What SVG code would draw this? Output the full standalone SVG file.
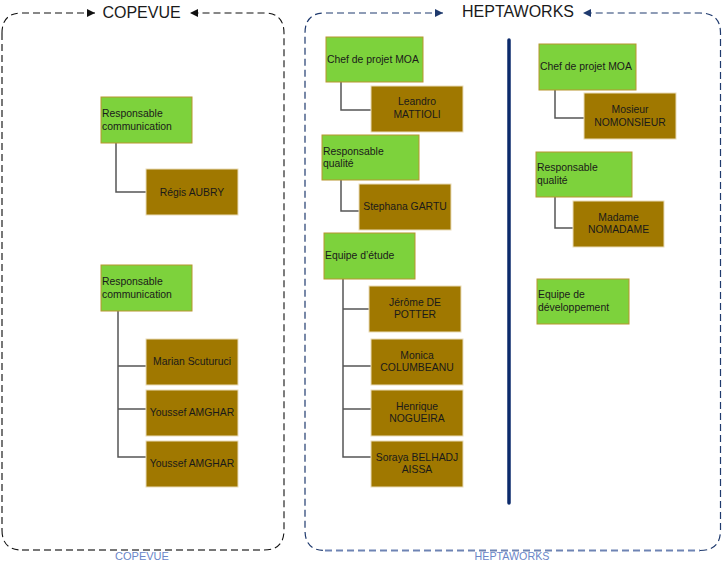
<svg xmlns="http://www.w3.org/2000/svg" width="722" height="564" viewBox="0 0 722 564">
<style>
.g{fill:#7dd23c;stroke:#b8962e;stroke-width:1}
.b{fill:#a07800;stroke:#eadcb8;stroke-width:1}
.t{font-family:"Liberation Sans",Arial,sans-serif;font-size:10.4px;fill:#1a1a1a}
.c{text-anchor:middle}
.title{font-family:"Liberation Sans",Arial,sans-serif;font-size:16px;fill:#1a1a1a;text-anchor:middle}
.foot{font-family:"Liberation Sans",Arial,sans-serif;fill:#6a86c8;text-anchor:middle}
.con{fill:none;stroke:#555;stroke-width:1.5}
.fk{fill:none;stroke:#111;stroke-width:1.1;stroke-dasharray:7,4}
.fg{fill:none;stroke:#777;stroke-width:2;stroke-dasharray:7,4}
.fn{fill:none;stroke:#1f3a6e;stroke-width:1.2;stroke-dasharray:7,4}
.fl{fill:none;stroke:#6e84b4;stroke-width:2;stroke-dasharray:7,4}
</style>
<defs>
<marker id="ak" viewBox="0 0 10 10" refX="10" refY="5" markerWidth="10" markerHeight="8" markerUnits="userSpaceOnUse" orient="auto-start-reverse"><path d="M0,0 L10,5 L0,10 z" fill="#111"/></marker>
<marker id="an" viewBox="0 0 10 10" refX="10" refY="5" markerWidth="10" markerHeight="8" markerUnits="userSpaceOnUse" orient="auto-start-reverse"><path d="M0,0 L10,5 L0,10 z" fill="#1f3a6e"/></marker>
</defs>

<g id="copevue-frame">
<path class="fk" d="M95,13 H22 Q2,13 2,33" marker-start="url(#ak)"/>
<path class="fg" d="M2,33 V530"/>
<path class="fk" d="M2,530 Q2,550 22,550"/>
<path class="fg" d="M22,550 H264"/>
<path class="fk" d="M264,550 Q284,550 284,530 V33 Q284,13 264,13 H190" marker-end="url(#ak)"/>
<text class="title" x="141.5" y="18">COPEVUE</text>
<text class="foot" x="142" y="560" font-size="11px">COPEVUE</text>
</g>

<g id="heptaworks-frame">
<path class="fn" d="M443,13 H325 Q305,13 305,33 V530 Q305,550.5 325,550.5" marker-start="url(#an)"/>
<path class="fl" d="M325,550.5 H700"/>
<path class="fn" d="M700,550.5 Q720.5,550.5 720.5,530 V33 Q720.5,13 700,13 H583" marker-end="url(#an)"/>
<text class="title" x="518" y="17">HEPTAWORKS</text>
<text class="foot" x="512" y="560" font-size="10.7px">HEPTAWORKS</text>
<line x1="509" y1="40" x2="509" y2="503" stroke="#0b2a6b" stroke-width="3.5" stroke-linecap="round"/>
</g>

<g id="connectors">
<path class="con" d="M116,143 V192 H146"/>
<path class="con" d="M118,311 V457 H146 M118,366 H146 M118,409 H146"/>
<path class="con" d="M341,82 V110 H371"/>
<path class="con" d="M341,180 V211 H359"/>
<path class="con" d="M343,279 V457 H371 M343,309 H369 M343,366 H371 M343,409 H371"/>
<path class="con" d="M555,90 V118 H584"/>
<path class="con" d="M555,197 V228 H573"/>
</g>

<g id="c1"><rect class="g" x="101" y="97" width="91" height="46"/><text class="t" x="102" y="117">Responsable</text><text class="t" x="102" y="130">communication</text></g>
<g id="c2"><rect class="b" x="146" y="169" width="92" height="46"/><text class="t c" x="192" y="196">Régis AUBRY</text></g>
<g id="c3"><rect class="g" x="101" y="265" width="91" height="46"/><text class="t" x="102" y="285">Responsable</text><text class="t" x="102" y="297.5">communication</text></g>
<g id="c4"><rect class="b" x="146" y="339" width="92" height="46"/><text class="t c" x="192" y="365">Marian Scuturuci</text></g>
<g id="c5"><rect class="b" x="146" y="390" width="92" height="46"/><text class="t c" x="192" y="416">Youssef AMGHAR</text></g>
<g id="c6"><rect class="b" x="146" y="441" width="92" height="46"/><text class="t c" x="192" y="466.5">Youssef AMGHAR</text></g>

<g id="h1"><rect class="g" x="326" y="37" width="97" height="45"/><text class="t" x="327" y="63">Chef de projet MOA</text></g>
<g id="h2"><rect class="b" x="371" y="86" width="92" height="46"/><text class="t c" x="417" y="105">Leandro</text><text class="t c" x="417" y="118">MATTIOLI</text></g>
<g id="h3"><rect class="g" x="322" y="135" width="97" height="45"/><text class="t" x="323" y="155">Responsable</text><text class="t" x="323" y="167">qualité</text></g>
<g id="h4"><rect class="b" x="359" y="184" width="92" height="46"/><text class="t c" x="405" y="210">Stephana GARTU</text></g>
<g id="h5"><rect class="g" x="324" y="233" width="91" height="46"/><text class="t" x="325" y="259">Equipe d’étude</text></g>
<g id="h6"><rect class="b" x="369" y="286" width="92" height="46"/><text class="t c" x="415" y="306">Jérôme DE</text><text class="t c" x="415" y="318">POTTER</text></g>
<g id="h7"><rect class="b" x="371" y="339" width="92" height="46"/><text class="t c" x="417" y="359">Monica</text><text class="t c" x="417" y="371">COLUMBEANU</text></g>
<g id="h8"><rect class="b" x="371" y="390" width="92" height="46"/><text class="t c" x="417" y="410">Henrique</text><text class="t c" x="417" y="422">NOGUEIRA</text></g>
<g id="h9"><rect class="b" x="371" y="441" width="92" height="46"/><text class="t c" x="417" y="461">Soraya BELHADJ</text><text class="t c" x="417" y="473">AISSA</text></g>

<g id="r1"><rect class="g" x="539" y="44" width="97" height="46"/><text class="t" x="540" y="70">Chef de projet MOA</text></g>
<g id="r2"><rect class="b" x="584" y="93" width="92" height="46"/><text class="t c" x="630" y="113">Mosieur</text><text class="t c" x="630" y="126">NOMONSIEUR</text></g>
<g id="r3"><rect class="g" x="536" y="152" width="96" height="45"/><text class="t" x="537" y="171">Responsable</text><text class="t" x="537" y="184">qualité</text></g>
<g id="r4"><rect class="b" x="573" y="201" width="91" height="46"/><text class="t c" x="618.5" y="221">Madame</text><text class="t c" x="618.5" y="233">NOMADAME</text></g>
<g id="r5"><rect class="g" x="537" y="279" width="92" height="45"/><text class="t" x="538" y="298">Equipe de</text><text class="t" x="538" y="311">développement</text></g>
</svg>
